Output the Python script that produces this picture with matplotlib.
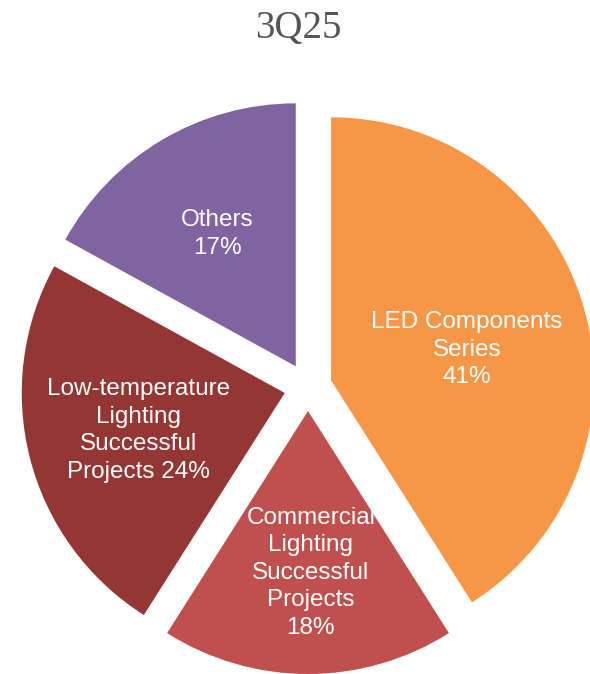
import numpy as np
import matplotlib.pyplot as plt

# 3Q25 revenue mix
categories = ['LED Components\nSeries', 'Commercial\nLighting\nSuccessful\nProjects',
              'Low-temperature\nLighting\nSuccessful\nProjects', 'Others']
shares = [41, 18, 24, 17]
pct_text = ['41%', '18%', '24%', '17%']
colors = ['#F79646', '#C0504D', '#943634', '#8064A2']
# label placement: fraction of radius from wedge tip, small angle nudge (deg)
label_dist = [0.53, 0.615, 0.575, 0.585]
label_nudge = [-3.5, 1.0, 0.0, 0.0]

fig = plt.figure(figsize=(5.9, 6.74), dpi=100)
ax = fig.add_axes([0, 0, 1, 1])

# pixel-like data units: figure is 590 x 674
cx, cy, r = 308, 287, 263
wedges, _ = ax.pie(shares, colors=colors, startangle=90, counterclock=False,
                   explode=[24] * 4, radius=r, center=(cx, cy),
                   wedgeprops=dict(linewidth=0))
ax.set_xlim(0, 590)
ax.set_ylim(0, 674)
ax.axis('off')

for i, w in enumerate(wedges):
    tm = np.deg2rad((w.theta1 + w.theta2) / 2 + label_nudge[i])
    x0, y0 = w.center
    x = x0 + r * label_dist[i] * np.cos(tm)
    y = y0 + r * label_dist[i] * np.sin(tm)
    if i == 2:
        txt = categories[i] + ' ' + pct_text[i]
    else:
        txt = categories[i] + '\n' + pct_text[i]
    ax.text(x, y, txt, ha='center', va='center', multialignment='center',
            color='white', fontsize=17.5, family='Liberation Sans', linespacing=1.32)

fig.text(0.505, 1 - 28 / 674, '3Q25', ha='center', va='center',
         fontsize=28, family='Liberation Serif', color='#555555')

plt.savefig('out.png', dpi=100)
